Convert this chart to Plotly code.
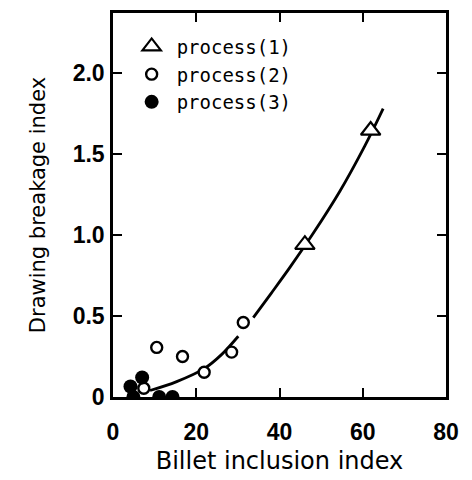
import plotly.graph_objects as go

# Data
p1_x = [46.1, 61.9]
p1_y = [0.94, 1.645]

p2_x = [7.4, 10.5, 16.7, 21.9, 28.5, 31.3]
p2_y = [0.054, 0.306, 0.25, 0.153, 0.277, 0.46]

p3_x = [4.2, 7.0, 4.9, 11.1, 14.3]
p3_y = [0.065, 0.12, 0.0, 0.0, 0.0]

# fitted curve (None = gap in the drawn line)
curve_x = [8.9, 15.3, 21.9, 26.0, 30.1, None, 33.7, 38.0, 42.5, 48.1, 54.5, 60.5, 64.9]
curve_y = [0.04, 0.095, 0.175, 0.26, 0.375, None, 0.49, 0.64, 0.80, 1.01, 1.27, 1.55, 1.78]

x_ticks = [0, 20, 40, 60, 80]
x_ticktext = ["0", "20", "40", "60", "80"]
y_ticks = [0, 0.5, 1.0, 1.5, 2.0]
y_ticktext = ["0", "0.5", "1.0", "1.5", "2.0"]

fig = go.Figure()

fig.add_trace(go.Scatter(
    x=curve_x, y=curve_y, mode="lines", connectgaps=False,
    line=dict(color="black", width=2.8, shape="spline"),
    showlegend=False, hoverinfo="skip"))

fig.add_trace(go.Scatter(
    x=p1_x, y=p1_y, mode="markers", name="process(1)",
    marker=dict(symbol="triangle-up", size=17, color="white", line=dict(color="black", width=2.2))))

fig.add_trace(go.Scatter(
    x=p2_x, y=p2_y, mode="markers", name="process(2)",
    marker=dict(symbol="circle", size=11, color="white", line=dict(color="black", width=2.4))))

fig.add_trace(go.Scatter(
    x=p3_x, y=p3_y, mode="markers", name="process(3)",
    marker=dict(symbol="circle", size=14, color="black", line=dict(color="black", width=0))))

axis_common = dict(
    showline=True, linecolor="black", linewidth=2.5, mirror="ticks",
    ticks="inside", ticklen=9, tickwidth=2, tickcolor="black",
    showgrid=False, zeroline=False, automargin=False,
    tickfont=dict(family="Liberation Sans", size=23, color="black", weight="bold"),
)

fig.update_xaxes(
    range=[0, 80], tickvals=x_ticks, ticktext=x_ticktext,
    ticklabelstandoff=13,
    title=dict(text="Billet inclusion index", font=dict(family="DejaVu Sans", size=24, color="black"), standoff=8),
    **axis_common)
fig.update_yaxes(
    range=[0, 2.37], tickvals=y_ticks, ticktext=y_ticktext,
    ticklabelstandoff=1,
    title=dict(text="Drawing breakage index", font=dict(family="DejaVu Sans", size=21, color="black"), standoff=22),
    **axis_common)

fig.update_layout(
    width=464, height=472,
    margin=dict(l=105, r=26, t=5, b=83),
    paper_bgcolor="white", plot_bgcolor="white",
    legend=dict(x=0.041, y=0.962, xanchor="left", yanchor="top",
                font=dict(family="DejaVu Sans Mono", size=19, color="black"),
                bgcolor="rgba(0,0,0,0)", itemwidth=40),
)

fig.write_html("out.html")
